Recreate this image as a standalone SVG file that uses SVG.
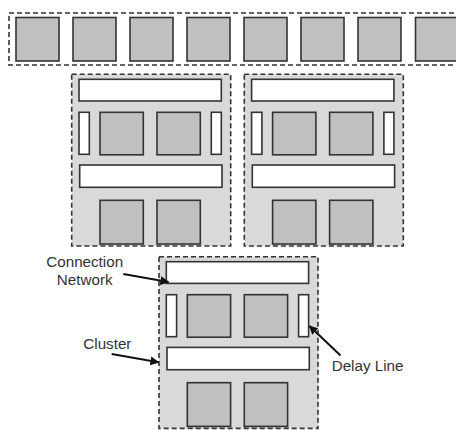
<svg xmlns="http://www.w3.org/2000/svg" width="456" height="430" viewBox="0 0 456 430">
<style>
.frame{fill:#ffffff;stroke:#333;stroke-width:1.6;stroke-dasharray:5,3}
.cl{fill:#d9d9d9;stroke:#333;stroke-width:1.6;stroke-dasharray:5,3}
.sq{fill:#c0c0c0;stroke:#333;stroke-width:1.6}
.bar{fill:#ffffff;stroke:#333;stroke-width:1.6}
.lbl{font-family:"Liberation Sans",Arial,sans-serif;font-size:15.2px;fill:#333}
.arr{stroke:#111;stroke-width:2;fill:none;marker-end:url(#ah)}
</style>
<defs>
<marker id="ah" viewBox="0 0 10 10" refX="9" refY="5" markerWidth="4.5" markerHeight="4.5" orient="auto" markerUnits="strokeWidth">
<path d="M0,0 L10,5 L0,10 z" fill="#111"/>
</marker>
<g id="clusterShape">
<rect class="cl" x="0" y="0" width="159" height="171.7"/>
<rect class="bar" x="7.3" y="5" width="142.3" height="21.7"/>
<rect class="bar" x="7.3" y="38" width="10.3" height="42"/>
<rect class="sq" x="28.3" y="38" width="43.3" height="42.5"/>
<rect class="sq" x="85.3" y="38" width="43.3" height="42.5"/>
<rect class="bar" x="139.6" y="38" width="10" height="42"/>
<rect class="bar" x="8" y="90.7" width="142.3" height="22.3"/>
<rect class="sq" x="28.3" y="126" width="43.3" height="43.7"/>
<rect class="sq" x="85.3" y="126" width="43.3" height="43.7"/>
</g>
</defs>
<g id="top-row">
<rect class="frame" x="9" y="13" width="460" height="52"/>
<rect class="sq" x="16" y="17.5" width="43" height="43.5"/>
<rect class="sq" x="73" y="17.5" width="43" height="43.5"/>
<rect class="sq" x="130" y="17.5" width="43" height="43.5"/>
<rect class="sq" x="187" y="17.5" width="43" height="43.5"/>
<rect class="sq" x="244" y="17.5" width="43" height="43.5"/>
<rect class="sq" x="301" y="17.5" width="43" height="43.5"/>
<rect class="sq" x="358" y="17.5" width="43" height="43.5"/>
<rect class="sq" x="415.5" y="17.5" width="43" height="43.5"/>
</g>
<g id="cluster-1" transform="translate(71.7,74.3)"><use href="#clusterShape"/></g>
<g id="cluster-2" transform="translate(244.3,74.3)"><use href="#clusterShape"/></g>
<g id="cluster-3" transform="translate(159,256.7)"><use href="#clusterShape"/></g>
<g id="connectors">
<line class="arr" x1="123.3" y1="274" x2="168.5" y2="282"/>
<line class="arr" x1="111.7" y1="354" x2="158.5" y2="362.3"/>
<line class="arr" x1="340.5" y1="355.5" x2="309.5" y2="326"/>
</g>
<g id="labels">
<text class="lbl" x="84.7" y="267" text-anchor="middle">Connection</text>
<text class="lbl" x="84.7" y="285" text-anchor="middle">Network</text>
<text class="lbl" x="83.3" y="349.3">Cluster</text>
<text class="lbl" x="331.7" y="370.7">Delay Line</text>
</g>
</svg>
